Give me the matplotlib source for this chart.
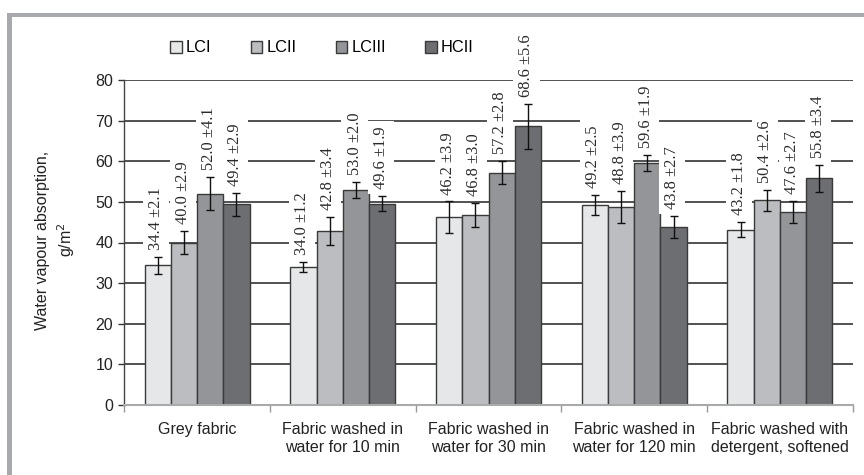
import matplotlib
matplotlib.use("Agg")
import matplotlib.pyplot as plt
from matplotlib.patches import Rectangle
import numpy as np

categories = ["Grey fabric", "Fabric washed in\nwater for 10 min", "Fabric washed in\nwater for 30 min",
              "Fabric washed in\nwater for 120 min", "Fabric washed with\ndetergent, softened"]
series = ["LCI", "LCII", "LCIII", "HCII"]
lci = [34.4, 34.0, 46.2, 49.2, 43.2]
lci_err = [2.1, 1.2, 3.9, 2.5, 1.8]
lcii = [40.0, 42.8, 46.8, 48.8, 50.4]
lcii_err = [2.9, 3.4, 3.0, 3.9, 2.6]
lciii = [52.0, 53.0, 57.2, 59.6, 47.6]
lciii_err = [4.1, 2.0, 2.8, 1.9, 2.7]
hcii = [49.4, 49.6, 68.6, 43.8, 55.8]
hcii_err = [2.9, 1.9, 5.6, 2.7, 3.4]
yticks = [0, 10, 20, 30, 40, 50, 60, 70, 80]

values = [lci, lcii, lciii, hcii]
errors = [lci_err, lcii_err, lciii_err, hcii_err]
colors = ["#e6e7e8", "#bcbdc0", "#939598", "#6d6e71"]

plt.rcParams['font.family'] = ['Liberation Sans', 'DejaVu Sans']

fig = plt.figure(figsize=(8.64, 4.75), dpi=100)
W, H = 864, 475
ax = fig.add_axes([124.3 / W, 1 - 405 / H, (852.7 - 124.3) / W, (405 - 80) / H])

# grey frame
frame_c = "#a7a9ac"
fig.add_artist(Rectangle((7.3 / W, 1 - 17.3 / H), 1, 4.6 / H, transform=fig.transFigure,
                         facecolor=frame_c, edgecolor="none"))
fig.add_artist(Rectangle((7.3 / W, 0), 5 / W, 1 - 12.7 / H, transform=fig.transFigure,
                         facecolor=frame_c, edgecolor="none"))

x = np.arange(len(categories))
bw = 0.18
handles = []
for i, (vals, errs) in enumerate(zip(values, errors)):
    pos = x + (i - 1.5) * bw
    b = ax.bar(pos, vals, bw, color=colors[i], edgecolor="#3a3a3a", linewidth=1.0,
               label=series[i], zorder=2)
    handles.append(b)
    ax.errorbar(pos, vals, yerr=errs, fmt="none", ecolor="#111111", elinewidth=1.0,
                capsize=3, capthick=1.0, zorder=3)
    for xp, v, e in zip(pos, vals, errs):
        ax.annotate(f"{v:.1f} \u00b1{e:.1f}", xy=(xp, v + e), xytext=(-1, 5),
                    textcoords="offset points", rotation=90, ha="center", va="bottom",
                    fontsize=11.8, family=["Liberation Serif", "DejaVu Serif"], color="#2a2a2a",
                    bbox=dict(facecolor="white", edgecolor="none", pad=3.6), zorder=4)

ax.set_xlim(-0.5, len(categories) - 0.5)
ax.set_ylim(0, 80)
ax.set_yticks(yticks)
ax.set_yticklabels([str(t) for t in yticks], fontsize=11.5, color="#222222")
ax.set_xticks(x)
ax.set_xticklabels(categories, fontsize=11.5, color="#222222", linespacing=1.25)
ax.set_xticks(np.arange(len(categories) + 1) - 0.5, minor=True)
ax.tick_params(axis="x", which="major", length=0, pad=12)
ax.tick_params(axis="x", which="minor", length=5, color="#999999", width=1)
ax.tick_params(axis="y", which="major", length=4, color="#333333", width=1, pad=4)

ax.set_axisbelow(True)
ax.yaxis.grid(True, color="#222222", linewidth=1.1, zorder=0)
for s in ["top", "right"]:
    ax.spines[s].set_visible(False)
ax.spines["left"].set_color("#444444")
ax.spines["left"].set_linewidth(1.0)
ax.spines["bottom"].set_color("#aaaaaa")
ax.spines["bottom"].set_linewidth(1.5)
ax.spines["left"].set_zorder(1)

fig.text(56 / W, 1 - 240 / H, "Water vapour absorption,\ng/m$^2$", rotation=90,
         ha="center", va="center", fontsize=11.5, color="#222222", linespacing=1.3)

fig.legend(handles, series, loc="center", bbox_to_anchor=(322 / W, 1 - 48 / H), ncol=4,
           frameon=False, fontsize=11.8, handlelength=0.7, handleheight=0.7,
           handletextpad=0.25, columnspacing=2.4, borderpad=0)

fig.savefig("out.png", dpi=100)
